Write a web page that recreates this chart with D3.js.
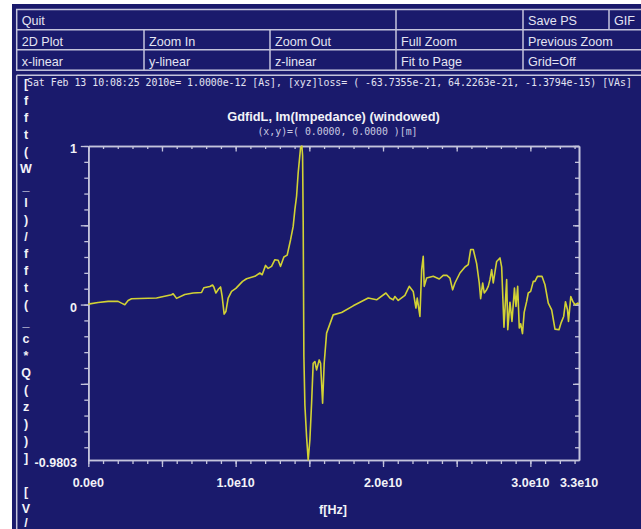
<!DOCTYPE html>
<html><head><meta charset="utf-8">
<script src="https://cdn.jsdelivr.net/npm/d3@7"></script>
<style>
html,body{margin:0;padding:0;background:#fff;}
svg{display:block;}
</style></head><body>
<svg id="c" width="641" height="529"></svg>
<script>
// Frequency samples (GHz) and windowed Im(Impedance) values
const freqGHz = [0,0.665,1.344,2.023,2.254,2.478,2.702,2.933,4.630,5.648,5.757,5.988,6.551,7.115,7.685,7.841,8.248,8.432,
  8.520,8.656,8.839,8.975,9.083,9.219,9.335,9.491,9.722,10.014,10.468,10.740,11.303,11.643,11.799,12.030,12.206,12.437,12.661,12.885,
  13.048,13.272,13.496,13.727,13.904,14.019,14.134,14.243,14.406,14.494,14.542,14.583,14.630,14.698,14.813,14.922,15.037,15.153,15.261,15.377,
  15.492,15.669,15.764,15.900,16.008,16.171,16.619,17.189,17.977,18.995,19.565,20.197,20.468,20.692,20.808,21.032,21.487,21.779,22.050,22.234,
  22.322,22.505,22.621,22.729,22.797,22.960,23.408,23.816,24.087,24.318,24.542,24.725,24.881,25.221,25.560,25.784,25.947,26.124,26.354,26.531,
  26.626,26.762,26.870,27.033,27.142,27.257,27.373,27.481,27.712,27.936,28.052,28.208,28.391,28.466,28.615,28.751,28.921,29.023,29.138,29.247,
  29.342,29.464,29.579,29.749,29.858,30.020,30.197,30.312,30.482,30.787,30.991,31.215,31.446,31.670,31.941,32.097,32.261,32.383,32.519,32.587,
  32.743,32.879,33.028,33.211,33.30];
const imZ = [0.003,0.013,0.020,0.020,0.009,-0.001,0.026,0.037,0.041,0.062,0.068,0.039,0.064,0.073,0.076,0.106,0.114,0.123,
  0.111,0.073,0.098,0.111,0.051,-0.060,-0.044,0.041,0.083,0.102,0.146,0.163,0.178,0.199,0.188,0.247,0.228,0.241,0.283,0.279,
  0.241,0.300,0.312,0.409,0.493,0.599,0.683,0.831,0.990,1.000,0.940,0.523,-0.328,-0.633,-0.833,-0.9803,-0.854,-0.622,-0.370,-0.359,
  -0.412,-0.349,-0.370,-0.622,-0.370,-0.180,-0.065,-0.050,-0.008,0.041,0.030,0.073,0.041,0.030,0.051,0.026,0.058,0.115,0.083,-0.022,
  0.041,-0.075,0.220,0.304,0.115,0.167,0.178,0.161,0.184,0.185,0.167,0.093,0.136,0.199,0.237,0.252,0.347,0.347,0.258,0.136,
  0.037,0.136,0.073,0.094,0.115,0.157,0.220,0.136,0.272,0.294,0.236,-0.143,0.157,-0.159,0.015,-0.106,0.104,-0.012,0.115,-0.148,
  -0.121,-0.183,-0.049,0.020,0.073,0.083,0.146,0.146,0.178,0.178,0.125,0.009,-0.033,-0.155,-0.159,-0.112,-0.075,0.018,-0.033,-0.107,
  0.051,0.020,-0.001,0.009,0.005];

const xDomain = [0, 3.33e10];
const yDomain = [-0.9803, 1];
const xTickValues = [0, 1e10, 2e10, 3e10, 3.33e10];
const xTickLabels = ["0.0e0", "1.0e10", "2.0e10", "3.0e10", "3.3e10"];
const yTickValues = [1, 0, -0.9803];
const yTickLabels = ["1", "0", "-0.9803"];

const title = "GdfidL, Im(Impedance) (windowed)";
const subtitle = "(x,y)=( 0.0000, 0.0000 )[m]";
const xLabel = "f[Hz]";
const yLabel = "[fft(W_l)/fft(_c*Q(z))] [V/As]";
const stamp = "Sat Feb 13 10:08:25 2010";
const runInfo = "e= 1.0000e-12 [As], [xyz]loss= ( -63.7355e-21, 64.2263e-21, -1.3794e-15) [VAs]";

const menuLabels = [
  ["Quit", "", "Save PS", "GIF"],
  ["2D Plot", "Zoom In", "Zoom Out", "Full Zoom", "Previous Zoom"],
  ["x-linear", "y-linear", "z-linear", "Fit to Page", "Grid=Off"]
];

// ---- layout & style ----
const W = 641, H = 529;
const navy = "#1a1a6c";
const lineCol = "#c4c4dc";
const textCol = "#e4e4f2";
const plot = {left: 88.3, right: 579, top: 146, bottom: 460};
const menuRowEdges = [9.5, 29.8, 49.8, 70.2];
const menuColEdges = [
  [16.7, 396, 523, 609, 680],
  [16.7, 144, 270, 396, 523, 680],
  [16.7, 144, 270, 396, 523, 680]
];

const svg = d3.select("#c");
svg.append("rect").attr("x", 12).attr("y", 4).attr("width", W - 12).attr("height", H - 4).attr("fill", navy);

// ---- button panel ----
const menu = svg.append("g");
menu.append("rect").attr("x", menuColEdges[0][0]).attr("y", menuRowEdges[0])
  .attr("width", 700).attr("height", menuRowEdges[3] - menuRowEdges[0])
  .attr("fill", "none").attr("stroke", lineCol).attr("stroke-width", 1.5);
menuRowEdges.slice(1, 3).forEach(yy => {
  menu.append("line").attr("x1", 16.7).attr("x2", W).attr("y1", yy).attr("y2", yy)
    .attr("stroke", lineCol).attr("stroke-width", 1.5);
});
menuLabels.forEach((row, r) => {
  const edges = menuColEdges[r];
  const y0 = menuRowEdges[r], y1 = menuRowEdges[r + 1];
  row.forEach((lab, c) => {
    if (c > 0) {
      menu.append("line").attr("x1", edges[c]).attr("x2", edges[c]).attr("y1", y0).attr("y2", y1)
        .attr("stroke", lineCol).attr("stroke-width", 1.5);
    }
    menu.append("text").attr("x", edges[c] + 5).attr("y", y0 + 15.8)
      .attr("font-family", "Liberation Sans, Arial, sans-serif").attr("font-size", 12.6)
      .attr("fill", textCol).text(lab);
  });
});

// info box frame
svg.append("line").attr("x1", 16.7).attr("x2", W).attr("y1", 75.2).attr("y2", 75.2)
  .attr("stroke", lineCol).attr("stroke-width", 1.5);
svg.append("line").attr("x1", 16.7).attr("x2", 16.7).attr("y1", 75.2).attr("y2", H)
  .attr("stroke", lineCol).attr("stroke-width", 1.5);

const mono = "DejaVu Sans Mono, Liberation Mono, monospace";
const charW = 5.93;
svg.append("text").attr("x", 27).attr("y", 85.5).attr("font-family", mono).attr("font-size", 9.9)
  .attr("fill", textCol).attr("textLength", stamp.length * charW).text(stamp);
svg.append("text").attr("x", 27 + 24 * charW).attr("y", 85.5).attr("font-family", mono).attr("font-size", 9.9)
  .attr("fill", textCol).attr("textLength", runInfo.length * charW).text(runInfo);

// ---- vertical y label (one character per line, runs off the bottom edge) ----
const yl = svg.append("g");
Array.from(yLabel).forEach((ch, i) => {
  const by = 88 + 17 * i;
  if (by - 9 > H) return; // characters below the window are never visible
  yl.append("text").attr("x", 26).attr("y", Math.min(by, H - 2)).attr("text-anchor", "middle")
    .attr("font-family", "Liberation Sans, Arial, sans-serif").attr("font-weight", "bold")
    .attr("font-size", 12.5).attr("fill", "#f2f2f8").text(ch);
});

// ---- titles ----
svg.append("text").attr("x", 333.5).attr("y", 120.5).attr("text-anchor", "middle")
  .attr("font-family", "Liberation Sans, Arial, sans-serif").attr("font-weight", "bold")
  .attr("font-size", 12.8).attr("fill", "#f2f2f8").text(title);
svg.append("text").attr("x", 337.5).attr("y", 134.5).attr("text-anchor", "middle")
  .attr("font-family", mono).attr("font-size", 9.9).attr("fill", "#c8c8e0")
  .attr("textLength", subtitle.length * charW).text(subtitle);

// ---- scales & axes ----
const x = d3.scaleLinear().domain(xDomain).range([plot.left, plot.right]);
const y = d3.scaleLinear().domain(yDomain).range([plot.bottom, plot.top]);

const xMinor = d3.range(0, 34).map(i => i * 1e9);
const xMajor = xMinor.filter(v => v % 5e9 === 0);
const yMinor = d3.range(-9, 11).map(i => i / 10);
const yMajor = [-0.5, 0, 0.5, 1];

function styleAxis(g) {
  g.selectAll(".domain").attr("stroke", lineCol).attr("stroke-width", 1.6);
  g.selectAll(".tick line").attr("stroke", lineCol).attr("stroke-width", 1.3);
  g.selectAll(".tick text").remove();
}
function addAxis(axisFn, scale, vals, size, tx, ty) {
  svg.append("g").attr("transform", `translate(${tx},${ty})`)
    .call(axisFn(scale).tickValues(vals).tickSizeInner(size).tickSizeOuter(0).tickFormat(""))
    .call(styleAxis);
}
// bottom & left: outward ticks; top & right: inward ticks
addAxis(d3.axisBottom, x, xMinor, 4, 0, plot.bottom);
addAxis(d3.axisBottom, x, xMajor, 7, 0, plot.bottom);
addAxis(d3.axisTop, x, xMinor, -3, 0, plot.top);
addAxis(d3.axisTop, x, xMajor, -5.5, 0, plot.top);
addAxis(d3.axisLeft, y, yMinor, 4, plot.left, 0);
addAxis(d3.axisLeft, y, yMajor, 7.5, plot.left, 0);
addAxis(d3.axisRight, y, yMinor, -4, plot.right, 0);
addAxis(d3.axisRight, y, yMajor, -6, plot.right, 0);

// tick labels
const lblFont = "Liberation Sans, Arial, sans-serif";
xTickValues.forEach((v, i) => {
  svg.append("text").attr("x", x(v)).attr("y", 487).attr("text-anchor", "middle")
    .attr("font-family", lblFont).attr("font-weight", "bold").attr("font-size", 12.5)
    .attr("fill", "#f2f2f8").text(xTickLabels[i]);
});
yTickValues.forEach((v, i) => {
  svg.append("text").attr("x", 77).attr("y", y(v) + 7.4).attr("text-anchor", "end")
    .attr("font-family", lblFont).attr("font-weight", "bold").attr("font-size", 12.5)
    .attr("fill", "#f2f2f8").text(yTickLabels[i]);
});
svg.append("text").attr("x", 333).attr("y", 514).attr("text-anchor", "middle")
  .attr("font-family", lblFont).attr("font-weight", "bold").attr("font-size", 12.5)
  .attr("fill", "#f2f2f8").text(xLabel);

// ---- curve ----
const pts = freqGHz.map((f, i) => ({f: f * 1e9, v: imZ[i]}));
const line = d3.line().x(d => x(d.f)).y(d => y(d.v));
svg.append("path").datum(pts).attr("d", line).attr("fill", "none")
  .attr("stroke", "#d2d234").attr("stroke-width", 1.6).attr("stroke-linejoin", "round");
</script>
</body></html>
